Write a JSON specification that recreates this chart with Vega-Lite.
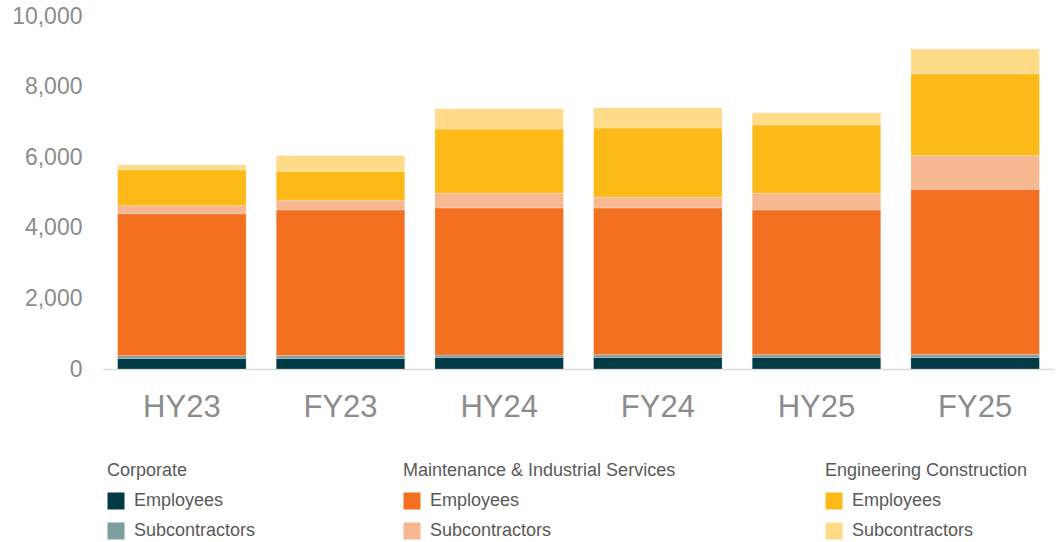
{
  "$schema": "https://vega.github.io/schema/vega-lite/v6.json",
  "autosize": "none",
  "width": 951,
  "height": 353,
  "padding": {"left": 103, "top": 16, "right": 5, "bottom": 173},
  "background": "#ffffff",
  "config": {
    "view": {"stroke": null},
    "font": "Liberation Sans",
    "legend": {
      "orient": "none",
      "titleFontSize": 18,
      "titleFontWeight": "normal",
      "titleColor": "#595959",
      "titleFont": "Liberation Sans",
      "titleLimit": 600,
      "labelLimit": 600,
      "labelFont": "Liberation Sans",
      "labelFontSize": 18,
      "labelColor": "#595959",
      "symbolType": "square",
      "symbolSize": 289,
      "symbolStrokeWidth": 0,
      "symbolOpacity": 1,
      "rowPadding": 12,
      "titlePadding": 12,
      "labelOffset": 9,
      "padding": 0,
      "direction": "vertical"
    }
  },
  "data": {
    "values": [
      {"period": "HY23", "group": "Corporate", "type": "Employees", "value": 300},
      {"period": "HY23", "group": "Corporate", "type": "Subcontractors", "value": 78},
      {"period": "HY23", "group": "Maintenance & Industrial Services", "type": "Employees", "value": 4022},
      {"period": "HY23", "group": "Maintenance & Industrial Services", "type": "Subcontractors", "value": 226},
      {"period": "HY23", "group": "Engineering Construction", "type": "Employees", "value": 1020},
      {"period": "HY23", "group": "Engineering Construction", "type": "Subcontractors", "value": 142},
      {"period": "FY23", "group": "Corporate", "type": "Employees", "value": 300},
      {"period": "FY23", "group": "Corporate", "type": "Subcontractors", "value": 80},
      {"period": "FY23", "group": "Maintenance & Industrial Services", "type": "Employees", "value": 4128},
      {"period": "FY23", "group": "Maintenance & Industrial Services", "type": "Subcontractors", "value": 274},
      {"period": "FY23", "group": "Engineering Construction", "type": "Employees", "value": 820},
      {"period": "FY23", "group": "Engineering Construction", "type": "Subcontractors", "value": 443},
      {"period": "HY24", "group": "Corporate", "type": "Employees", "value": 328},
      {"period": "HY24", "group": "Corporate", "type": "Subcontractors", "value": 67},
      {"period": "HY24", "group": "Maintenance & Industrial Services", "type": "Employees", "value": 4170},
      {"period": "HY24", "group": "Maintenance & Industrial Services", "type": "Subcontractors", "value": 415},
      {"period": "HY24", "group": "Engineering Construction", "type": "Employees", "value": 1817},
      {"period": "HY24", "group": "Engineering Construction", "type": "Subcontractors", "value": 576},
      {"period": "FY24", "group": "Corporate", "type": "Employees", "value": 328},
      {"period": "FY24", "group": "Corporate", "type": "Subcontractors", "value": 75},
      {"period": "FY24", "group": "Maintenance & Industrial Services", "type": "Employees", "value": 4162},
      {"period": "FY24", "group": "Maintenance & Industrial Services", "type": "Subcontractors", "value": 302},
      {"period": "FY24", "group": "Engineering Construction", "type": "Employees", "value": 1958},
      {"period": "FY24", "group": "Engineering Construction", "type": "Subcontractors", "value": 576},
      {"period": "HY25", "group": "Corporate", "type": "Employees", "value": 328},
      {"period": "HY25", "group": "Corporate", "type": "Subcontractors", "value": 76},
      {"period": "HY25", "group": "Maintenance & Industrial Services", "type": "Employees", "value": 4104},
      {"period": "HY25", "group": "Maintenance & Industrial Services", "type": "Subcontractors", "value": 472},
      {"period": "HY25", "group": "Engineering Construction", "type": "Employees", "value": 1930},
      {"period": "HY25", "group": "Engineering Construction", "type": "Subcontractors", "value": 350},
      {"period": "FY25", "group": "Corporate", "type": "Employees", "value": 328},
      {"period": "FY25", "group": "Corporate", "type": "Subcontractors", "value": 84},
      {"period": "FY25", "group": "Maintenance & Industrial Services", "type": "Employees", "value": 4681},
      {"period": "FY25", "group": "Maintenance & Industrial Services", "type": "Subcontractors", "value": 952},
      {"period": "FY25", "group": "Engineering Construction", "type": "Employees", "value": 2317},
      {"period": "FY25", "group": "Engineering Construction", "type": "Subcontractors", "value": 706}
    ]
  },
  "transform": [
    {"stack": "value", "groupby": ["period"], "as": ["v0", "v1"]}
  ],
  "encoding": {
    "x": {
      "field": "period",
      "type": "nominal",
      "sort": ["HY23", "FY23", "HY24", "FY24", "HY25", "FY25"],
      "scale": {"paddingInner": 0.19, "paddingOuter": 0.092},
      "axis": {
        "title": null,
        "labelAngle": 0,
        "labelFontSize": 31,
        "labelColor": "#8c8c8c",
        "labelPadding": 23,
        "ticks": false,
        "domainColor": "#d9d9d9",
        "domainWidth": 1.5
      }
    },
    "y": {
      "field": "v1",
      "type": "quantitative",
      "scale": {"domain": [0, 10000], "nice": false},
      "axis": {
        "title": null,
        "values": [0, 2000, 4000, 6000, 8000, 10000],
        "format": ",.0f",
        "labelFontSize": 23,
        "labelColor": "#8c8c8c",
        "labelPadding": 21,
        "ticks": false,
        "domain": false,
        "grid": false
      }
    },
    "y2": {"field": "v0"}
  },
  "layer": [
    {
      "transform": [{"filter": "datum.group === 'Corporate'"}],
      "mark": {"type": "bar", "stroke": "#ffffff", "strokeWidth": 0.4, "strokeOpacity": 0.6},
      "encoding": {
        "color": {
          "field": "type",
          "type": "nominal",
          "scale": {"domain": ["Employees", "Subcontractors"], "range": ["#003A45", "#7F9EA2"]},
          "legend": {"title": "Corporate", "legendX": 4, "legendY": 446}
        }
      }
    },
    {
      "transform": [{"filter": "datum.group === 'Maintenance & Industrial Services'"}],
      "mark": {"type": "bar", "stroke": "#ffffff", "strokeWidth": 0.4, "strokeOpacity": 0.6},
      "encoding": {
        "color": {
          "field": "type",
          "type": "nominal",
          "scale": {"domain": ["Employees", "Subcontractors"], "range": ["#F37021", "#F7B790"]},
          "legend": {"title": "Maintenance & Industrial Services", "legendX": 300, "legendY": 446}
        }
      }
    },
    {
      "transform": [{"filter": "datum.group === 'Engineering Construction'"}],
      "mark": {"type": "bar", "stroke": "#ffffff", "strokeWidth": 0.4, "strokeOpacity": 0.6},
      "encoding": {
        "color": {
          "field": "type",
          "type": "nominal",
          "scale": {"domain": ["Employees", "Subcontractors"], "range": ["#FDB918", "#FEDB89"]},
          "legend": {"title": "Engineering Construction", "legendX": 722, "legendY": 446}
        }
      }
    }
  ],
  "resolve": {"scale": {"color": "independent"}, "legend": {"color": "independent"}}
}
